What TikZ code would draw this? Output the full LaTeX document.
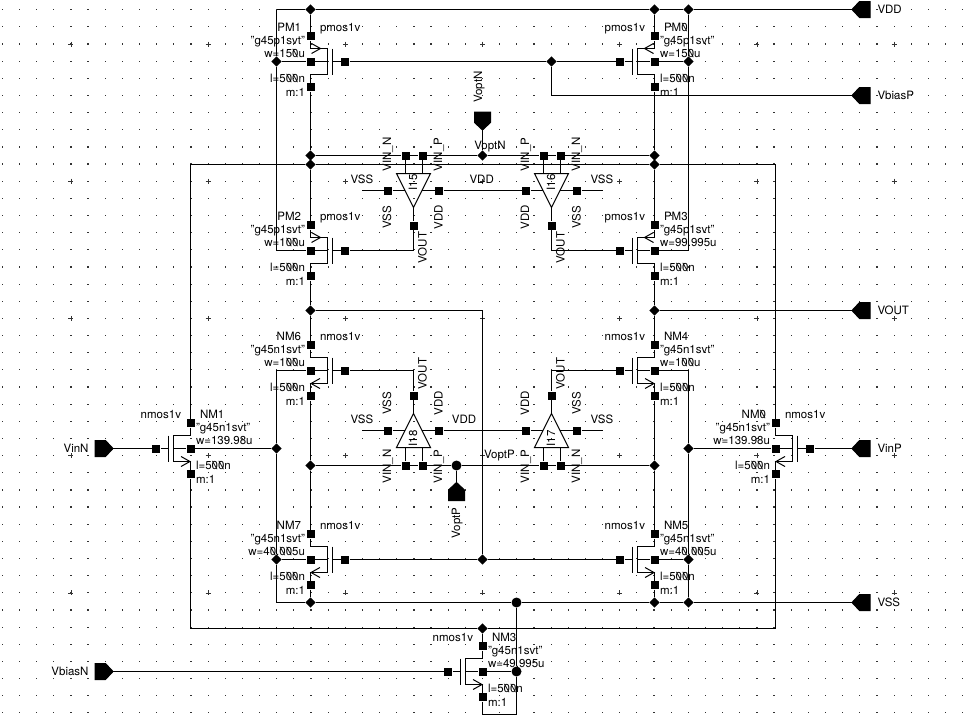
\documentclass[tikz,border=0pt]{standalone}
\usepackage{fontspec}
\setmainfont[RawFeature=+zero]{TeX Gyre Heros}
\usetikzlibrary{shapes.geometric}
\tikzset{
  wire/.style={line width=1pt},
  term/.style={rectangle,fill=black,minimum size=8pt,inner sep=0pt},
  junc/.style={diamond,fill=black,minimum size=10.5pt,inner sep=0pt},
  bigjunc/.style={circle,fill=black,minimum size=10pt,inner sep=0pt},
  lbl/.style={font=\fontsize{11.5}{12}\selectfont,inner sep=0pt,text height=8.5pt,text depth=2.5pt}
}
\begin{document}
\begin{tikzpicture}[x=1pt,y=-1pt,wire]
\useasboundingbox (0,0) rectangle (964,715);

% grid
\foreach \i in {0,...,56} \foreach \j in {0,...,41}
  \fill[black!80] (2.3+\i*17.15-0.6,9.7+\j*17.15-0.6) rectangle ++(1.2,1.2);
\foreach \i in {0,...,6} \foreach \j in {0,...,4}
  \draw[line width=0.5pt,black!80] (70.9+\i*137.2-2.5,44+\j*137.2) -- ++(5,0) (70.9+\i*137.2,44+\j*137.2-2.5) -- ++(0,5);

% transistors
\foreach \nm/\x/\gy/\d/\typ/\ay/\tip/\bs/\wv in {
  PM1/310.5/61.5/1/p/-13/10/1/150u, PM0/654.5/61.5/-1/p/-13/10/1/150u,
  PM2/310.5/250.5/1/p/-13/10/1/100u, PM3/654.5/250.5/-1/p/-13/10/1/99.995u,
  NM6/310.5/370.5/1/n/13/0.5/9.5/100u, NM4/654.5/370.5/-1/n/13/0.5/9.5/100u,
  NM7/310.5/559.5/1/n/13/0.5/9.5/40.005u, NM5/654.5/559.5/-1/n/13/0.5/9.5/40.005u,
  NM1/190.5/448.5/-1/n/13/0.5/9.5/139.98u, NM0/775.5/448.5/1/n/13/0.5/9.5/139.98u,
  NM3/482.5/671.5/-1/n/13/0.5/9.5/49.995u}
{
  \ifnum\d>0 \def\ai{east}\def\ao{west}\else \def\ai{west}\def\ao{east}\fi
  \node[term] (t\nm) at (\x,\gy-25.5) {};
  \node[term] (s\nm) at (\x,\gy+25.5) {};
  \node[term] (b\nm) at (\x,\gy) {};
  \node[term] (g\nm) at (\x+34.5*\d,\gy) {};
  \coordinate (ch\nm) at (\x+17*\d,\gy);
  \coordinate (bar\nm) at (\x+22*\d,\gy);
  \draw (t\nm) -- (\x,\gy-13) -- (\x+17*\d,\gy-13) -- (\x+17*\d,\gy+13) -- (\x,\gy+13) -- (s\nm);
  \draw (\x+22*\d,\gy-13) -- (\x+22*\d,\gy+13);
  \draw (b\nm) -- (ch\nm);
  \draw (g\nm) -- (bar\nm);
  \draw (\x+\bs*\d,\gy+\ay-5) -- (\x+\tip*\d,\gy+\ay) -- (\x+\bs*\d,\gy+\ay+5);
  \node[lbl,anchor=\ao] (typ\nm) at (\x+9*\d,\gy-33) {\typ mos1v};
  \node[lbl,anchor=\ai] (name\nm) at (\x-9*\d,\gy-33) {\nm};
  \node[lbl,anchor=\ai] (mod\nm) at (\x-5*\d,\gy-20) {"g45\typ 1svt"};
  \node[lbl,anchor=\ai] (w\nm) at (\x-5*\d,\gy-7.5) {w=\wv};
  \node[lbl,anchor=\ai] (l\nm) at (\x-5*\d,\gy+18) {l=500n};
  \node[lbl,anchor=\ai] (m\nm) at (\x-5*\d,\gy+31.5) {m:1};
}

% opamps
\foreach \nm/\x/\bs/\d/\la/\lb/\lc/\ld in {
  I15/413.5/173.5/1/VIN\_N/VIN\_P/VSS/VDD, I16/551.5/173.5/1/VIN\_P/VIN\_N/VDD/VSS,
  I18/413.5/447.5/-1/VIN\_N/VIN\_P/VSS/VDD, I17/551.5/447.5/-1/VIN\_P/VIN\_N/VDD/VSS}
{
  \coordinate (tip\nm) at (\x,\bs+34*\d);
  \draw (\x-17,\bs) -- (\x+17,\bs) -- (tip\nm) -- cycle;
  \node[term] (a\nm) at (\x-8,\bs-18*\d) {};
  \node[term] (b\nm) at (\x+9,\bs-18*\d) {};
  \node[term] (l\nm) at (\x-25.5,\bs+17*\d) {};
  \node[term] (r\nm) at (\x+25.5,\bs+17*\d) {};
  \node[term] (o\nm) at (\x,\bs+52*\d) {};
  \draw (a\nm) -- (\x-8,\bs);
  \draw (b\nm) -- (\x+9,\bs);
  \draw (l\nm) -- (\x-8.5,\bs+17*\d);
  \draw (r\nm) -- (\x+8.5,\bs+17*\d);
  \draw (tip\nm) -- (o\nm);
  \node[lbl,rotate=90] (name\nm) at (\x+0.5,\bs+9*\d) {\nm};
  \node[lbl,rotate=90] (ta\nm) at (\x-25.5,\bs-19*\d) {\la};
  \node[lbl,rotate=90] (tb\nm) at (\x+25.5,\bs-19*\d) {\lb};
  \node[lbl,rotate=90] (tc\nm) at (\x-25.5,\bs+44*\d) {\lc};
  \node[lbl,rotate=90] (td\nm) at (\x+26,\bs+44*\d) {\ld};
  \node[lbl,rotate=90] (to\nm) at (\x+10,\bs+74*\d) {VOUT};
}

% pins
\foreach \nm/\x/\y/\r in {VDD/852/9.5/0, VbiasP/852/95.5/0, VOUT/852/310.5/0, VinP/852/448.5/0, VSS/852/602.5/0,
  VinN/113/448.5/180, VbiasN/113/671.5/180, VoptN/482.5/130/90, VoptP/456.5/482.5/-90}
{
  \coordinate (pin\nm) at (\x,\y);
  \filldraw[shift={(\x,\y)},rotate=\r] (0,0) -- (7.5,-8) -- (18,-8) -- (18,8) -- (7.5,8) -- cycle;
}
\foreach \nm/\x/\y/\a in {VDD/877/10/west, VbiasP/877/96/west, VOUT/877/311/west, VinP/877/449/west, VSS/877/603/west,
  VinN/89/449/east, VbiasN/89/672/east}
  \node[lbl,anchor=\a] (lab\nm) at (\x,\y) {\nm};
\node[lbl,rotate=90] (labVoptN) at (479,87) {VoptN};
\node[lbl,rotate=90] (labVoptP) at (457,523) {VoptP};
\node[lbl] (netVoptN) at (490,146) {VoptN};
\node[lbl] (netVoptP) at (499.5,455) {VoptP};
\node[lbl] (netVSSa) at (362,180) {VSS};
\node[lbl] (netVDDa) at (481.7,180) {VDD};
\node[lbl] (netVSSb) at (602,180) {VSS};
\node[lbl] (netVSSc) at (362,420.7) {VSS};
\node[lbl] (netVDDb) at (464,420.7) {VDD};
\node[lbl] (netVSSd) at (602,420.7) {VSS};

% junctions
\foreach \nm/\x/\y in {
  jDa/310.5/9.5, jDb/654.5/9.5, jDc/688.5/9.5, jBa/276.5/61.5, jBb/688.5/61.5, jGa/551.5/61.5,
  jAa/310.5/155.5, jAb/654.5/155.5, jAc/482.5/155.5, jRa/310.5/164.5, jRb/654.5/164.5,
  jOa/310.5/310.5, jOb/654.5/310.5, jCa/310.5/465.5, jCb/654.5/465.5,
  jBc/276.5/448.5, jBd/688.5/448.5, jBe/276.5/559.5, jBf/688.5/559.5, jGb/482.5/559.5,
  jSa/310.5/602.5, jSb/654.5/602.5, jSc/688.5/602.5, jRc/482.5/628.5}
  \node[junc] (\nm) at (\x,\y) {};
\node[bigjunc] (jSd) at (516.5,602.5) {};
\node[bigjunc] (jSe) at (516.5,671.5) {};
\node[bigjunc] (jCc) at (456.5,465.5) {};

% corners
\coordinate (cVa) at (276.5,9.5);
\coordinate (cVb) at (276.5,370.5);
\coordinate (cVc) at (276.5,602.5);
\coordinate (cWa) at (482.5,714.5);
\coordinate (cWb) at (516.5,714.5);
\coordinate (cQa) at (482.5,310.5);
\coordinate (stA) at (362,190.5);
\coordinate (stB) at (603,190.5);
\coordinate (stC) at (362,430.5);
\coordinate (stD) at (603,430.5);

% supply rails
\draw (cVa) -- (jDa) -- (jDb) -- (jDc) -- (pinVDD);
\draw (cVa) -- (jBa) -- (jBa |- bPM2) -- (bPM2);
\draw (jDc) -- (jBb) -- (jBb |- bPM3) -- (bPM3);
\draw (bPM1) -- (jBa);
\draw (bPM0) -- (jBb);
\draw (bNM6) -- (cVb) -- (jBc) -- (jBe) -- (cVc) -- (jSa) -- (jSd) -- (jSb) -- (jSc) -- (pinVSS);
\draw (bNM4) -- (jBd |- bNM4) -- (jBd) -- (jBf) -- (jSc);
\draw (bNM7) -- (jBe);
\draw (bNM5) -- (jBf);
\draw (bNM1) -- (jBc);
\draw (bNM0) -- (jBd);

% drain lines
\draw (jDa) -- (tPM1);
\draw (sPM1) -- (jAa) -- (jRa) -- (tPM2);
\draw (sPM2) -- (jOa) -- (tNM6);
\draw (sNM6) -- (jCa) -- (tNM7);
\draw (sNM7) -- (jSa);
\draw (jDb) -- (tPM0);
\draw (sPM0) -- (jAb) -- (jRb) -- (tPM3);
\draw (sPM3) -- (jOb) -- (tNM4);
\draw (sNM4) -- (jCb) -- (tNM5);
\draw (sNM5) -- (jSb);

% big loop
\draw (tNM1) |- (jRa) -- (jRb) -| (tNM0);
\draw (sNM1) |- (jRc) -- (sNM0 |- jRc) -- (sNM0);
\draw (jRc) -- (tNM3);
\draw (sNM3) -- (cWa) -- (cWb) -- (jSe) -- (jSd);
\draw (bNM3) -- (jSe);

% sense lines
\draw (jAa) -- (aI15) -- (bI15) -- (jAc) -- (aI16) -- (bI16) -- (jAb);
\draw (jCa) -- (aI18) -- (bI18) -- (jCc) -- (aI17) -- (bI17) -- (jCb);
\draw (pinVoptN) -- (jAc);
\draw (jCc) -- (pinVoptP);
\draw (stA) -- (lI15);
\draw (rI15) -- (lI16);
\draw (rI16) -- (stB);
\draw (stC) -- (lI18);
\draw (rI18) -- (lI17);
\draw (rI17) -- (stD);

% gates
\draw (gPM1) -- (jGa) -- (gPM0);
\draw (jGa) |- (pinVbiasP);
\draw (gPM2) -| (oI15);
\draw (gPM3) -| (oI16);
\draw (gNM6) -| (oI18);
\draw (gNM4) -| (oI17);
\draw (gNM7) -- (jGb) -- (gNM5);
\draw (jOa) -- (cQa) -- (jGb);
\draw (jOb) -- (pinVOUT);
\draw (pinVinN) -- (gNM1);
\draw (gNM0) -- (pinVinP);
\draw (pinVbiasN) -- (gNM3);
\end{tikzpicture}
\end{document}
